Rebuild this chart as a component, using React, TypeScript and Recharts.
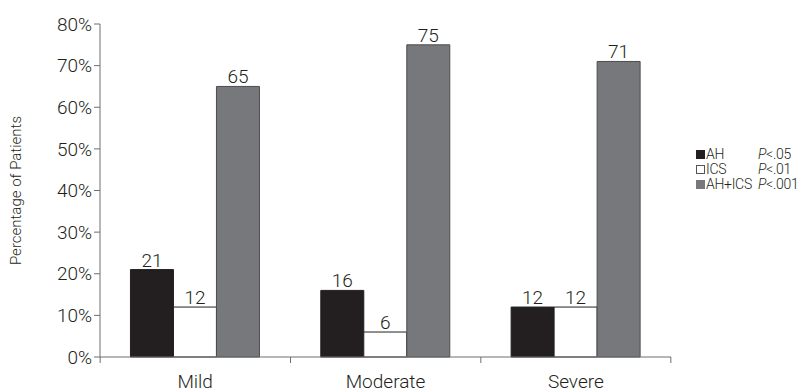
import { Bar, BarChart, LabelList, Legend, XAxis, YAxis } from "recharts";

const categories = ["Mild", "Moderate", "Severe"];
const ah = [21, 16, 12];
const ics = [12, 6, 12];
const ahIcs = [65, 75, 71];
const yTicks = [0, 10, 20, 30, 40, 50, 60, 70, 80];
const legendItems = [
  { name: "AH", p: "<.05", fill: "#231f20" },
  { name: "ICS", p: "<.01", fill: "#ffffff" },
  { name: "AH+ICS", p: "<.001", fill: "#77787b" },
];

const data = categories.map((c, i) => ({
  name: c,
  ah: ah[i],
  ics: ics[i],
  ahIcs: ahIcs[i],
}));

const FONT = "Roboto, sans-serif";
const TEXT = "#231f20";
const AXIS = "#6d6e71";
const PLOT_W = 570;

function CatTick(props: any) {
  const { x, y, payload, index } = props;
  const band = PLOT_W / categories.length;
  return (
    <g>
      <line x1={x - band / 2} x2={x - band / 2} y1={y - 8} y2={y - 2} stroke={AXIS} />
      {index === categories.length - 1 && (
        <line x1={x + band / 2} x2={x + band / 2} y1={y - 8} y2={y - 2} stroke={AXIS} />
      )}
      <text x={x} y={y + 23} textAnchor="middle" fontSize={19} fontWeight={300} fill={TEXT} fontFamily={FONT}>
        {payload.value}
      </text>
    </g>
  );
}

function LegendBox() {
  return (
    <div
      style={{
        fontFamily: FONT,
        fontWeight: 300,
        fontSize: 14,
        color: TEXT,
        lineHeight: "15px",
        letterSpacing: -0.3,
      }}
    >
      {legendItems.map((d) => (
        <div key={d.name} style={{ display: "flex", alignItems: "center", whiteSpace: "nowrap" }}>
          <span
            style={{
              display: "inline-block",
              flexShrink: 0,
              width: 7,
              height: 7,
              background: d.fill,
              border: `1px solid ${d.fill === "#ffffff" ? "#555" : d.fill}`,
              marginRight: 1,
            }}
          />
          <span style={{ width: 52, flexShrink: 0 }}>{d.name}</span>
          <span>
            <i>P</i>
            {d.p}
          </span>
        </div>
      ))}
    </div>
  );
}

export default function App() {
  return (
    <div style={{ position: "absolute", left: 0, top: 0, background: "#fff" }}>
      <BarChart
        width={810}
        height={392}
        data={data}
        margin={{ top: 24, right: 25, left: 0, bottom: 0 }}
        barGap={0}
        barCategoryGap="16%"
      >
        <XAxis
          dataKey="name"
          tick={<CatTick />}
          tickLine={false}
          axisLine={{ stroke: AXIS }}
          interval={0}
          height={35}
        />
        <YAxis
          width={100}
          domain={[0, 80]}
          ticks={yTicks}
          tickFormatter={(v) => `${v}%`}
          tick={{ fontSize: 19, fontWeight: 300, fill: TEXT, fontFamily: FONT }}
          tickLine={{ stroke: AXIS }}
          axisLine={{ stroke: AXIS }}
          label={{
            value: "Percentage of Patients",
            angle: -90,
            position: "insideLeft",
            offset: 16,
            style: { fontSize: 15, fontWeight: 300, fill: TEXT, fontFamily: FONT, textAnchor: "middle" },
          }}
        />
        <Legend
          layout="vertical"
          align="right"
          verticalAlign="middle"
          content={<LegendBox />}
          wrapperStyle={{ left: 696, right: "auto", width: 114, top: 147 }}
        />
        <Bar dataKey="ah" fill="#231f20" stroke="#231f20" isAnimationActive={false}>
          <LabelList dataKey="ah" position="top" fontSize={19} fontWeight={300} fill={TEXT} fontFamily={FONT} offset={3} />
        </Bar>
        <Bar dataKey="ics" fill="#ffffff" stroke="#231f20" strokeWidth={1} isAnimationActive={false}>
          <LabelList dataKey="ics" position="top" fontSize={19} fontWeight={300} fill={TEXT} fontFamily={FONT} offset={3} />
        </Bar>
        <Bar dataKey="ahIcs" fill="#77787b" stroke="#4d4d4f" isAnimationActive={false}>
          <LabelList dataKey="ahIcs" position="top" fontSize={19} fontWeight={300} fill={TEXT} fontFamily={FONT} offset={3} />
        </Bar>
      </BarChart>
    </div>
  );
}
